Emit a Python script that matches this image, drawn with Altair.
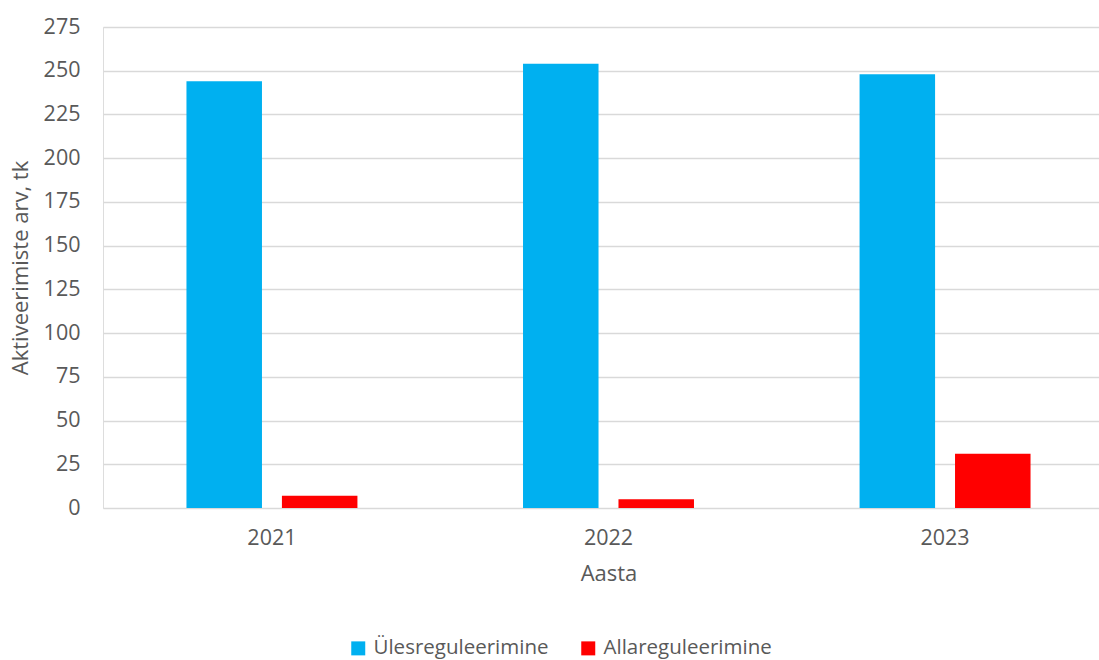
import altair as alt
import pandas as pd

years = ["2021", "2022", "2023"]
series = ["Ülesreguleerimine", "Allareguleerimine"]
up_values = [244, 254, 248]
down_values = [7, 5, 31]
colors = ["#00B0F0", "#FF0000"]

rows = []
for i, y in enumerate(years):
    rows.append({"Aasta": y, "Suund": series[0], "Arv": up_values[i]})
    rows.append({"Aasta": y, "Suund": series[1], "Arv": down_values[i]})
df = pd.DataFrame(rows)

FONT = "Open Sans"
TXT = "#595959"

chart = (
    alt.Chart(df)
    .mark_bar()
    .encode(
        x=alt.X(
            "Aasta:N",
            title="Aasta",
            sort=years,
            scale=alt.Scale(range=[0, 1011], paddingInner=0.492, paddingOuter=0.248),
            axis=alt.Axis(
                labelAngle=0,
                domain=False,
                ticks=False,
                grid=False,
                labelFontSize=21.5,
                labelColor=TXT,
                labelFont=FONT,
                labelPadding=19,
                titleFontSize=22,
                titleFontWeight="normal",
                titleColor=TXT,
                titleFont=FONT,
                titlePadding=15,
            ),
        ),
        xOffset=alt.XOffset(
            "Suund:N",
            sort=series,
            scale=alt.Scale(paddingInner=0.209, paddingOuter=0),
        ),
        y=alt.Y(
            "Arv:Q",
            title="Aktiveerimiste arv, tk",
            scale=alt.Scale(domain=[0, 275], nice=False),
            axis=alt.Axis(
                values=list(range(0, 276, 25)),
                domain=False,
                ticks=False,
                gridColor="#D9D9D9",
                gridWidth=1.5,
                labelFontSize=21.5,
                labelColor=TXT,
                labelFont=FONT,
                labelPadding=23,
                titleFontSize=22,
                titleFontWeight="normal",
                titleColor=TXT,
                titleFont=FONT,
                titlePadding=11,
            ),
        ),
        color=alt.Color(
            "Suund:N",
            sort=series,
            scale=alt.Scale(domain=series, range=colors),
            legend=alt.Legend(
                title=None,
                orient="none",
                legendX=245,
                legendY=611,
                direction="horizontal",
                symbolType="square",
                symbolSize=196,
                symbolStrokeWidth=0,
                symbolOpacity=1,
                labelFontSize=20.5,
                labelColor=TXT,
                labelFont=FONT,
                labelOffset=5,
                labelLimit=0,
                columnPadding=29,
            ),
        ),
    )
    .properties(
        width=996,
        height=481,
        autosize=alt.AutoSizeParams(type="none"),
        padding={"left": 103, "top": 27, "right": 0, "bottom": 152},
    )
    .configure_view(stroke=None)
    .configure(background="white")
)

chart.save("out.html", embed_options={"renderer": "svg", "actions": False})
